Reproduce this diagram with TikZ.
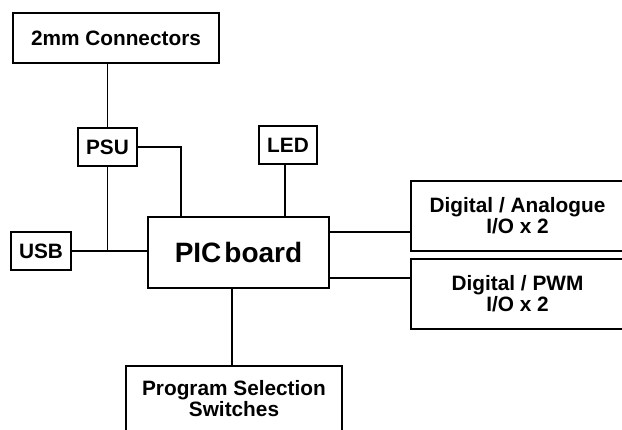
\documentclass[tikz,border=0pt]{standalone}
\usepackage{fontspec}
\setmainfont{Liberation Sans}
\usetikzlibrary{positioning}

\begin{document}
\begin{tikzpicture}[x=1pt,y=-1pt,line width=1.8pt,
        blk/.style={draw,rectangle,inner sep=0pt,font=\fontsize{20.8}{21}\selectfont\bfseries,align=center}]
        \useasboundingbox (0,0) rectangle (622,430);
        \clip (0,0) rectangle (622,430);
        % boxes
        \node[blk,minimum width=206,minimum height=50] (conn) at (116,38){2mm Connectors};
        \node[blk,minimum width=59,minimum height=38] (psu) at (107.5,147){PSU};
        \node[blk,minimum width=58,minimum height=38] (led) at (288,145){LED};
        \node[blk,minimum width=60,minimum height=38] (usb) at (41,251){USB};
        \node[blk,minimum width=181,minimum height=71,font=\fontsize{28}{30}\selectfont\bfseries] (pic) at (238.5,252.5){PIC\kern3pt board};
        \node[blk,minimum width=213,minimum height=70] (dana) at (517.5,216){Digital / Analogue\\I/O x 2};
        \node[blk,minimum width=213,minimum height=70] (dpwm) at (517.5,294){Digital / PWM\\I/O x 2};
        \node[blk,minimum width=216,minimum height=66] (pss) at (234,399){Program Selection\\Switches};
        % wiring
        \coordinate (J) at (psu.south |- usb.east);
        \draw (psu.north |- conn.south) -- (psu.north);
        \draw (psu.south) -- (J);
        \draw (usb.east) -- (usb.east -| pic.west);
        \draw (psu.east) -| ([xshift=34pt]pic.north west);
        \draw ([xshift=-3pt]led.south) -- ([xshift=-3pt]led.south |- pic.north);
        \draw ([yshift=20.5pt]pic.east) -- ([yshift=20.5pt]pic.east -| dana.west);
        \draw ([yshift=-25.5pt]pic.east) -- ([yshift=-25.5pt]pic.east -| dpwm.west);
        \draw ([xshift=-6.5pt]pic.south) -- ([xshift=-6.5pt]pic.south |- pss.north);
    \end{tikzpicture}
\end{document}
